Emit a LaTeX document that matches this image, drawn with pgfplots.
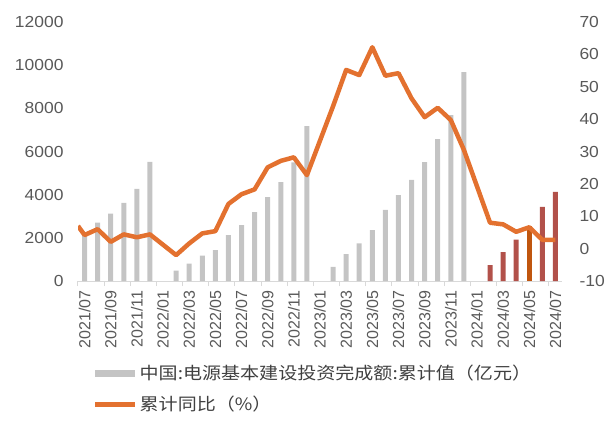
\documentclass[border=0pt]{standalone}
\usepackage{fontspec}
\setmainfont{Liberation Sans}
\newfontfamily\ticky[FakeStretch=1.09]{Liberation Sans}
\newfontfamily\cjk[FakeStretch=1.12]{Noto Sans CJK SC}
\usepackage{pgfplots}
\pgfplotsset{compat=1.18}
\definecolor{linecol}{HTML}{E3712F}
\definecolor{barred}{HTML}{B2514A}
\definecolor{barorg}{HTML}{C0560F}
\definecolor{tickcol}{HTML}{595959}
\definecolor{legtext}{HTML}{404040}
\definecolor{axcol}{HTML}{D9D9D9}
\definecolor{barg}{HTML}{C4C4C4}
\begin{document}
\begin{tikzpicture}
\useasboundingbox (0,0) rectangle (606pt,429pt);
\begin{axis}[
  at={(78pt,148pt)}, anchor=south west,
  scale only axis, width=484pt, height=259pt,
  xmin=-0.5, xmax=36.5, ymin=0, ymax=12000,
  ytick={0,2000,...,12000},
  scaled y ticks=false,
  /pgf/number format/1000 sep={},
  /pgf/number format/assume math mode=true,
  axis y line*=left, axis x line*=bottom,
  y axis line style={draw=none},
  x axis line style={-, draw=axcol, line width=1pt},
  xtick={0,2,...,36},
  xticklabels={2021/07,2021/09,2021/11,2022/01,2022/03,2022/05,2022/07,2022/09,2022/11,2023/01,2023/03,2023/05,2023/07,2023/09,2023/11,2024/01,2024/03,2024/05,2024/07},
  minor xtick={-0.5,1.5,...,36.5},
  major tick length=0pt, minor tick length=5pt,
  tick align=outside,
  minor tick style={draw=axcol, line width=1pt},
  xticklabel style={rotate=90, anchor=east, font=\fontsize{16}{18}\selectfont, text=tickcol},
  xticklabel shift=6pt,
  yticklabel style={font=\ticky\fontsize{16}{18}\selectfont, text=tickcol, xshift=-11pt},
]
\addplot[ybar, bar width=5pt, bar shift=0pt, draw=none, fill=barg] coordinates {
(0,2230) (1,2700) (2,3120) (3,3625) (4,4270) (5,5520)
(7,480) (8,800) (9,1180) (10,1435) (11,2130) (12,2590) (13,3190) (14,3890) (15,4580) (16,5500) (17,7180)
(19,655) (20,1250) (21,1745) (22,2360) (23,3290) (24,3980) (25,4680) (26,5505) (27,6570) (28,7690) (29,9675)
};
\addplot[ybar, bar width=5pt, bar shift=0pt, draw=none, fill=barred] coordinates {
(31,741) (32,1340) (33,1915) (35,3440) (36,4130)
};
\addplot[ybar, bar width=5pt, bar shift=0pt, draw=none, fill=barorg] coordinates {
(34,2530)
};
\end{axis}
\begin{axis}[
  at={(78pt,148pt)}, anchor=south west,
  scale only axis, width=484pt, height=259pt,
  xmin=-0.5, xmax=36.5, ymin=-10, ymax=70,
  ytick={-10,0,...,70},
  /pgf/number format/assume math mode=true,
  axis y line*=right, axis x line=none,
  y axis line style={draw=none},
  xtick=\empty,
  major tick length=0pt,
  yticklabel style={font=\ticky\fontsize{16}{18}\selectfont, text=tickcol, xshift=14pt},
  legend style={at={(0.031,-0.317)}, anchor=north west, draw=none, fill=none, inner sep=0pt,
    font=\cjk\fontsize{17}{20}\selectfont, text=legtext, row sep=11pt,
    cells={anchor=west}},
]
\addlegendimage{legend image code/.code={\fill[barg, draw=none] (0pt,-3.5pt) rectangle (40pt,3.5pt);}}
\addlegendentry{中国:电源基本建设投资完成额:累计值（亿元）}
\addplot[linecol, line width=4.5pt, line join=round,
  legend image code/.code={\draw[linecol, line width=4.5pt] (0pt,0pt) -- (40pt,0pt);}] coordinates {
(-0.5,7.0) (0,4.2) (1,6.0) (2,2.1) (3,4.4) (4,3.5) (5,4.4)
(7,-2.0) (8,1.6) (9,4.7) (10,5.4) (11,13.8) (12,16.8) (13,18.3) (14,25.1) (15,27.1) (16,28.2) (17,22.7)
(19,44.0) (20,55.2) (21,53.6) (22,62.2) (23,53.4) (24,54.2) (25,46.4) (26,40.6) (27,43.5) (28,39.7) (29,30.5)
(31,8.0) (32,7.5) (33,5.2) (34,6.6) (35,2.7) (36,2.7)
};
\addlegendentry{累计同比（\%）}
\end{axis}
\end{tikzpicture}
\end{document}
